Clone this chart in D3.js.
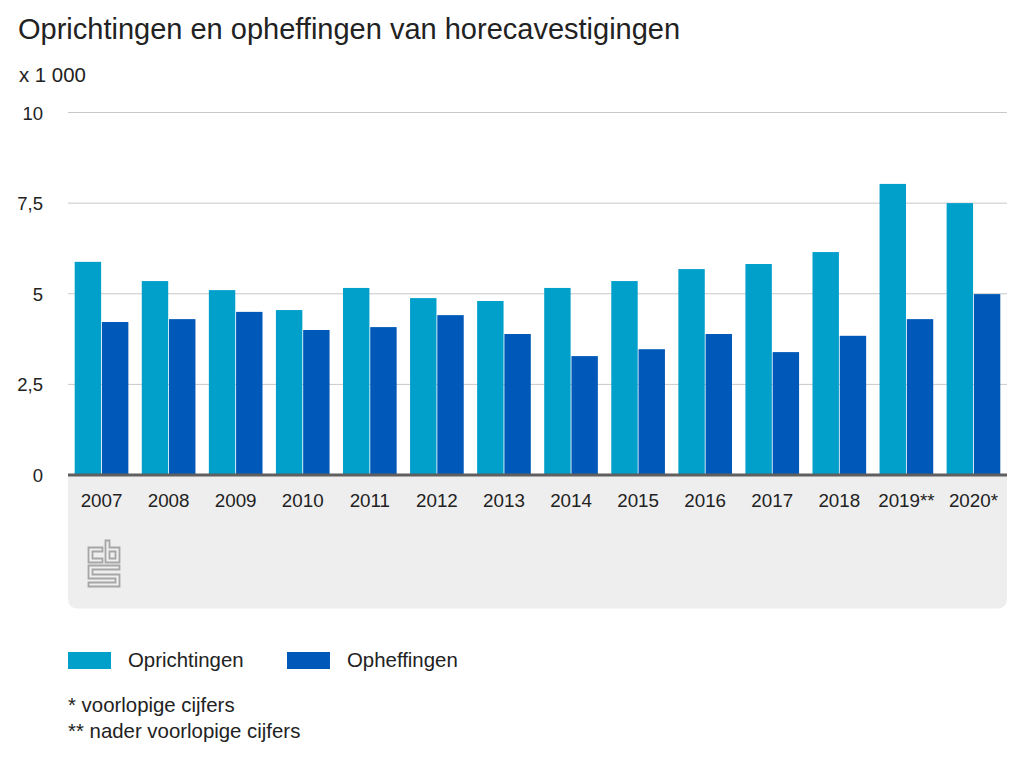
<!DOCTYPE html>
<html>
<head>
<meta charset="utf-8">
<script src="https://cdn.jsdelivr.net/npm/d3@7"></script>
<style>
    html, body { margin: 0; padding: 0; background: #fff; }
    svg { display: block; }
    text { font-family: "Liberation Sans", Arial, sans-serif; fill: #222; }
</style>
</head>
<body>
<div id="chart"></div>
<script>
const years = ['2007', '2008', '2009', '2010', '2011', '2012', '2013', '2014', '2015', '2016', '2017', '2018', '2019**', '2020*'];
const oprichtingen = [5.88, 5.35, 5.1, 4.55, 5.16, 4.88, 4.8, 5.16, 5.35, 5.68, 5.82, 6.15, 8.03, 7.5];
const opheffingen = [4.22, 4.3, 4.5, 4.0, 4.08, 4.41, 3.89, 3.28, 3.47, 3.89, 3.39, 3.84, 4.3, 4.99];
const seriesNames = ['Oprichtingen', 'Opheffingen'];
const seriesColors = ['#01a0cb', '#0058b8'];
const yTicks = [0, 2.5, 5, 7.5, 10];
const footnotes = ['* voorlopige cijfers', '** nader voorlopige cijfers'];

const width = 1024;
const height = 768;
const margin = { left: 68, right: 17, top: 112.5, bottom: 293 };

const svg = d3.select('#chart')
    .append('svg')
    .attr('width', width)
    .attr('height', height);

const x = d3.scaleBand()
    .domain(years)
    .range([margin.left, width - margin.right])
    .paddingInner(0.2)
    .paddingOuter(0.1);

const inner = d3.scaleBand()
    .domain(seriesNames)
    .range([0, x.bandwidth()])
    .paddingInner(0.03);

const y = d3.scaleLinear()
    .domain([0, 10])
    .range([height - margin.bottom, margin.top]);

// Title and unit
svg.append('text')
    .attr('x', 18)
    .attr('y', 39)
    .style('font-size', '29px')
    .text('Oprichtingen en opheffingen van horecavestigingen');

svg.append('text')
    .attr('x', 19)
    .attr('y', 82)
    .style('font-size', '20.4px')
    .text('x 1 000');

// Grey panel behind the year labels
const panelTop = y(0);
const panelBottom = 608.5;
const panelRight = width - margin.right;
const r = 10;
svg.append('path')
    .attr('d', `M${margin.left},${panelTop}H${panelRight}V${panelBottom - r}` +
        `Q${panelRight},${panelBottom} ${panelRight - r},${panelBottom}` +
        `H${margin.left + r}Q${margin.left},${panelBottom} ${margin.left},${panelBottom - r}Z`)
    .attr('fill', '#eeeeee');

// Gridlines and y labels
svg.append('g')
    .selectAll('line')
    .data(yTicks.filter(d => d > 0))
    .enter()
    .append('line')
    .attr('x1', margin.left)
    .attr('x2', width - margin.right)
    .attr('y1', d => y(d))
    .attr('y2', d => y(d))
    .attr('stroke', '#c8c8c8')
    .attr('stroke-width', 1);

svg.append('g')
    .selectAll('text')
    .data(yTicks)
    .enter()
    .append('text')
    .attr('x', 43)
    .attr('y', d => y(d) + 7)
    .attr('text-anchor', 'end')
    .style('font-size', '18.5px')
    .text(d => String(d).replace('.', ','));

// Bars
const groups = svg.append('g')
    .selectAll('g')
    .data(years)
    .enter()
    .append('g')
    .attr('transform', d => `translate(${x(d)},0)`);

[oprichtingen, opheffingen].forEach((values, s) => {
    groups.append('rect')
        .attr('x', inner(seriesNames[s]))
        .attr('y', (d, i) => y(values[i]))
        .attr('width', inner.bandwidth())
        .attr('height', (d, i) => y(0) - y(values[i]))
        .attr('fill', seriesColors[s]);
});

// Axis line
svg.append('line')
    .attr('x1', margin.left)
    .attr('x2', width - margin.right)
    .attr('y1', y(0))
    .attr('y2', y(0))
    .attr('stroke', '#5f5f5f')
    .attr('stroke-width', 3);

// Year labels
svg.append('g')
    .selectAll('text')
    .data(years)
    .enter()
    .append('text')
    .attr('x', d => x(d) + x.bandwidth() / 2)
    .attr('y', 507)
    .attr('text-anchor', 'middle')
    .style('font-size', '18.8px')
    .text(d => d);

// CBS logo
const logo = svg.append('g')
    .attr('transform', 'translate(88.5,540.5)')
    .attr('fill', 'none')
    .attr('stroke', '#a6a6a6')
    .attr('stroke-width', 1.8);

logo.append('path').attr('d', 'M14,7H0V22H14V18H4V11H14Z');
logo.append('path').attr('d', 'M17,0V22H31V7H21V0Z');
logo.append('path').attr('d', 'M21,11V18H27V11Z');
logo.append('path').attr('d', 'M0,25H31V29H4V34H31V46H0V42H27V38H0Z');

// Legend
const legendX = [68, 287];
seriesNames.forEach((name, i) => {
    svg.append('rect')
        .attr('x', legendX[i])
        .attr('y', 652)
        .attr('width', 43)
        .attr('height', 17)
        .attr('fill', seriesColors[i]);
    svg.append('text')
        .attr('x', legendX[i] + 60)
        .attr('y', 667)
        .style('font-size', '20.4px')
        .text(name);
});

// Footnotes
footnotes.forEach((note, i) => {
    svg.append('text')
        .attr('x', 68)
        .attr('y', 712 + i * 26)
        .style('font-size', '20.4px')
        .text(note);
});
</script>
</body>
</html>
